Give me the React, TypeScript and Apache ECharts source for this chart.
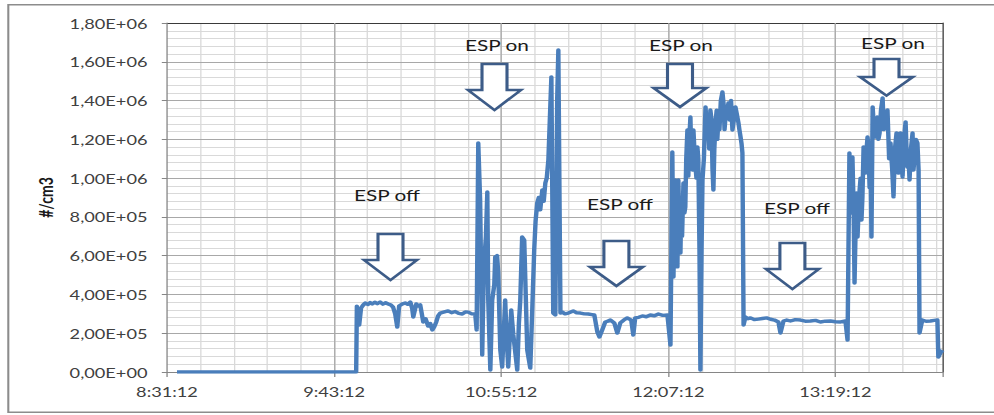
import React, { useEffect, useRef } from 'react';
import * as echarts from 'echarts';

// ---- data ----
const START_TIME = '8:31:12';
const X_MAX_MINUTES = 334.1;
const X_LABEL_STEP_MINUTES = 72;

// minutes elapsed since START_TIME
const minutesFromStart = [
  4.3, 81.5, 81.8, 82.8, 83.6, 84.5, 85.4, 86.5, 87.5, 88.4, 89.5, 90.6, 91.8, 93.0, 94.2, 95.3, 96.5, 97.4, 98.3, 99.2,
  100.0, 101.2, 102.6, 103.7, 104.8, 105.6, 106.1, 106.8, 107.4, 108.2, 109.1, 110.4, 111.4, 112.5, 113.4, 114.3, 115.2, 116.0, 116.8, 117.7,
  119.5, 121.1, 122.6, 124.2, 125.7, 127.2, 128.5, 129.8, 131.3, 132.8, 133.4, 134.1, 134.9, 135.8, 136.7, 138.0, 138.4, 139.3, 140.1, 141.4,
  142.7, 143.6, 144.4, 145.7, 147.0, 148.3, 149.2, 150.9, 152.2, 153.0, 153.9, 155.2, 156.5, 157.4, 158.2, 159.5, 160.8, 161.7, 163.0, 164.3,
  165.6, 166.4, 167.3, 168.1, 168.6, 169.5, 170.3, 171.5, 172.9, 175.0, 176.5, 178.1, 179.8, 181.5, 183.0, 184.1, 185.4, 186.3, 187.5, 188.8,
  190.0, 191.0, 192.7, 194.0, 195.3, 196.8, 198.3, 200.0, 200.9, 201.7, 203.2, 204.8, 206.5, 208.2, 210.0, 211.7, 213.6, 215.6, 216.9, 217.7,
  218.2, 219.0, 219.9, 220.3, 221.2, 222.5, 223.3, 224.2, 225.5, 226.4, 226.8, 227.7, 228.5, 229.4, 229.8, 230.3, 230.7, 232.0, 233.2, 234.1,
  235.4, 236.3, 237.6, 239.3, 240.6, 241.9, 243.6, 244.9, 246.2, 247.1, 247.9, 248.4, 249.2, 250.3, 251.4, 253.0, 254.8, 256.5, 258.3, 260.0,
  261.7, 263.4, 264.3, 265.6, 267.0, 268.6, 270.7, 272.9, 275.0, 277.2, 279.4, 281.5, 283.6, 285.8, 288.0, 290.2, 292.3, 293.2, 294.0, 295.3,
  295.8, 296.2, 297.1, 297.5, 298.4, 299.2, 300.1, 300.9, 301.8, 302.2, 303.1, 303.5, 304.0, 305.3, 306.1, 307.0, 308.3, 309.2, 310.4, 311.7,
  313.0, 314.3, 315.1, 316.0, 316.9, 318.2, 319.0, 319.9, 321.2, 321.6, 323.3, 323.8, 324.2, 325.4, 327.0, 328.9, 330.5, 331.9, 332.3, 333.2,
  334.1,
];

// particle number concentration, thousands of #/cm3
const countsThousand = [
  0, 0, 340, 242, 330, 345, 356, 348, 358, 351, 360, 352, 361, 350, 357, 351, 345, 335, 300, 232,
  340, 350, 356, 349, 361, 330, 284, 320, 351, 340, 346, 258, 275, 237, 250, 217, 235, 258, 290, 304,
  310, 315, 306, 312, 302, 299, 310, 309, 300, 299, 217, 1181, 887, 88, 578, 928, 371, 10, 371, 593,
  511, 113, 26, 371, 26, 320, 191, 10, 371, 696, 681, 113, 20, 335, 629, 872, 836, 939, 975, 1093,
  1522, 304, 294, 1403, 1661, 304, 309, 300, 304, 315, 305, 304, 300, 299, 296, 294, 206, 181, 217, 258,
  262, 268, 253, 201, 253, 268, 279, 268, 191, 279, 282, 289, 285, 294, 290, 299, 292, 294, 139, 1135,
  490, 990, 542, 990, 614, 975, 851, 1248, 1315, 1042, 1248, 1057, 1161, 629, 10, 629, 990, 1367, 1284, 1351,
  939, 1284, 1315, 1444, 1315, 1388, 1248, 1367, 1284, 1212, 1130, 242, 284, 275, 279, 270, 273, 276, 279, 272,
  268, 258, 201, 263, 268, 263, 270, 268, 262, 263, 266, 258, 262, 263, 259, 258, 263, 165, 1130, 1109,
  851, 459, 923, 696, 939, 784, 1161, 1026, 1212, 1161, 1093, 696, 1367, 1212, 1315, 1233, 1413, 1315, 1351, 1181,
  903, 1233, 1026, 1233, 1006, 1290, 1057, 990, 1233, 1042, 1181, 1042, 201, 268, 262, 263, 266, 268, 77, 98,
  113,
];

// extra readings inside the dense "ESP on" stretches
const denseMinutes = [
  136.2, 137.4, 141.0, 142.2, 146.3, 151.6, 154.5, 158.8, 160.2, 162.3, 163.6,
  218.6, 219.4, 220.7, 221.6, 221.9, 222.9, 223.7, 224.6, 225.0, 225.9, 227.2, 228.1, 228.9,
  231.3, 232.6, 233.6, 234.6, 235.0, 235.8, 236.8, 237.1, 238.0, 238.6, 239.8, 240.2, 241.3, 242.4, 243.0, 244.2, 245.5, 246.6, 247.5,
  294.6, 296.6, 298.0, 298.8, 299.6, 300.5, 301.4, 302.7, 304.6, 305.7, 306.5, 307.6, 308.8, 309.8, 311.1, 312.4, 313.6, 314.7,
  315.6, 316.4, 317.5, 318.6, 319.5, 320.5, 322.0, 322.6,
];
const denseCountsThousand = [
  350, 700, 450, 600, 180, 250, 420, 780, 900, 880, 1000,
  850, 620, 760, 900, 700, 820, 1100, 1010, 1200, 1100, 1150, 1000, 1100,
  1100, 1250, 1150, 1300, 1050, 1150, 1350, 1200, 1250, 1400, 1380, 1250, 1350, 1300, 1400, 1300, 1330, 1250, 1180,
  820, 700, 850, 1000, 900, 1050, 1150, 950, 1250, 1300, 1200, 1350, 1250, 1300, 1100, 1050, 1150, 1100,
  1150, 1100, 1200, 1150, 1100, 1150, 1100, 1200,
];

const Y_MAX = 1800000;
const Y_MAJOR_STEP = 200000;
const Y_MINOR_STEP = 40000;

const annotationTexts = ['ESP off', 'ESP on', 'ESP off', 'ESP on', 'ESP off', 'ESP on'];

// ---- layout (page pixels) ----
const S = 1.3; // horizontal stretch of the original picture
const W = 994 / S;
const H = 415;
const px = (x: number) => x / S;
const FONT = 'Lato, "Open Sans", sans-serif';

const labelPos = [
  [387, 195], [497, 45], [620, 204], [681, 45], [797, 208], [893, 42.5],
];
// arrow: [centerX, top, shoulderY, tipY]
const arrowPos = [
  [390.5, 234, 260, 280],
  [494.5, 64, 90, 110],
  [616.4, 241, 267, 286],
  [680, 64, 88, 107],
  [792.4, 243, 269, 289],
  [886.5, 59, 77, 95.7],
];

function toClock(minutes: number): string {
  const [h, m, s] = START_TIME.split(':').map(Number);
  const t = Math.round(h * 3600 + m * 60 + s + minutes * 60);
  const hh = Math.floor(t / 3600);
  const mm = Math.floor((t % 3600) / 60);
  const ss = t % 60;
  return `${hh}:${String(mm).padStart(2, '0')}:${String(ss).padStart(2, '0')}`;
}

function sci(v: number): string {
  if (v === 0) return '0,00E+00';
  const e = Math.floor(Math.log10(Math.abs(v)) + 1e-9);
  const m = v / Math.pow(10, e);
  return m.toFixed(2).replace('.', ',') + 'E' + (e >= 0 ? '+' : '-') + String(Math.abs(e)).padStart(2, '0');
}

function arrowPoints(cx: number, top: number, sh: number, tip: number): number[][] {
  const hw = 12.5;
  const hh = 26.5;
  return [
    [px(cx - hw), top], [px(cx + hw), top], [px(cx + hw), sh], [px(cx + hh), sh],
    [px(cx), tip], [px(cx - hh), sh], [px(cx - hw), sh],
  ];
}

export default function App() {
  const ref = useRef<HTMLDivElement>(null);

  useEffect(() => {
    if (!ref.current) return;
    const chart = echarts.init(ref.current, null, { renderer: 'svg' });
    const seriesData = minutesFromStart
      .map((m, i) => [m, countsThousand[i] * 1000])
      .concat(denseMinutes.map((m, i) => [m, denseCountsThousand[i] * 1000]))
      .sort((a, b) => a[0] - b[0]);

    const graphics: any[] = [
      {
        type: 'rect',
        silent: true,
        z: -10,
        shape: { x: px(8.3), y: 4.7, width: W, height: 407.5 },
        style: { fill: 'none', stroke: '#8c8c8c', lineWidth: 1.6 },
      },
    ];
    arrowPos.forEach(([cx, top, sh, tip]) => {
      graphics.push({
        type: 'polygon',
        silent: true,
        z: 20,
        shape: { points: arrowPoints(cx, top, sh, tip) },
        style: { fill: '#ffffff', stroke: '#3d5c88', lineWidth: 2.4, lineJoin: 'miter' },
      });
    });
    annotationTexts.forEach((t, i) => {
      graphics.push({
        type: 'text',
        silent: true,
        z: 20,
        x: px(labelPos[i][0]),
        y: labelPos[i][1],
        style: {
          text: t,
          fill: '#1a1a1a',
          font: `16px ${FONT}`,
          align: 'center',
          verticalAlign: 'middle',
        },
      });
    });

    chart.setOption({
      animation: false,
      backgroundColor: '#ffffff',
      textStyle: { fontFamily: FONT },
      grid: {
        left: px(167),
        right: W - px(942),
        top: 23,
        bottom: H - 372,
        containLabel: false,
        outerBoundsMode: 'none',
      },
      xAxis: [
        {
          type: 'value',
          position: 'top',
          min: 0,
          max: X_MAX_MINUTES,
          interval: X_LABEL_STEP_MINUTES / 5,
          z: 1,
          axisLine: { show: true, onZero: false, lineStyle: { color: '#3a3a3a', width: 1 } },
          axisTick: { show: false },
          axisLabel: { show: false },
          splitLine: { show: true, showMinLine: false, showMaxLine: false, lineStyle: { color: '#d9d9d9', width: 1 } },
        },
        {
          type: 'value',
          position: 'bottom',
          min: 0,
          max: X_MAX_MINUTES,
          interval: X_LABEL_STEP_MINUTES,
          z: 2,
          axisLine: { show: true, onZero: false, lineStyle: { color: '#868686', width: 1 } },
          axisTick: { show: true, length: 5, lineStyle: { color: '#868686' } },
          axisLabel: {
            margin: 12,
            color: '#404040',
            fontSize: 14,
            fontFamily: FONT,
            formatter: (v: number) => (Math.abs(v % X_LABEL_STEP_MINUTES) < 1e-6 ? toClock(v) : ''),
          },
          splitLine: { show: true, showMinLine: false, showMaxLine: false, lineStyle: { color: '#a8a8a8', width: 1 } },
        },
      ],
      yAxis: [
        {
          type: 'value',
          position: 'left',
          min: 0,
          max: Y_MAX,
          interval: Y_MAJOR_STEP,
          z: 2,
          name: '#/cm3',
          nameLocation: 'middle',
          nameRotate: 90,
          nameGap: 86,
          nameTextStyle: { fontFamily: FONT, fontSize: 14, fontWeight: 'bold', color: '#1a1a1a' },
          axisLine: { show: true, onZero: false, lineStyle: { color: '#868686', width: 1 } },
          axisTick: { show: true, length: 4, lineStyle: { color: '#868686' } },
          axisLabel: { margin: 15, color: '#404040', fontSize: 14, fontFamily: FONT, formatter: (v: number) => sci(v) },
          splitLine: { show: true, showMinLine: false, showMaxLine: false, lineStyle: { color: '#a8a8a8', width: 1 } },
        },
        {
          type: 'value',
          position: 'right',
          min: 0,
          max: Y_MAX,
          interval: Y_MINOR_STEP,
          z: 1,
          axisLine: { show: true, onZero: false, lineStyle: { color: '#3a3a3a', width: 1 } },
          axisTick: { show: false },
          axisLabel: { show: false },
          splitLine: { show: true, showMinLine: false, showMaxLine: false, lineStyle: { color: '#d9d9d9', width: 1 } },
        },
      ],
      series: [
        {
          type: 'line',
          xAxisIndex: 1,
          yAxisIndex: 0,
          data: seriesData,
          showSymbol: false,
          symbol: 'none',
          z: 10,
          lineStyle: { color: '#4a7ebb', width: 3.4, join: 'round' },
        },
      ],
      graphic: graphics,
    });

    return () => chart.dispose();
  }, []);

  return (
    <div
      ref={ref}
      style={{
        position: 'absolute',
        left: 0,
        top: 0,
        width: `${W}px`,
        height: `${H}px`,
        transform: `scaleX(${S})`,
        transformOrigin: '0 0',
      }}
    />
  );
}
